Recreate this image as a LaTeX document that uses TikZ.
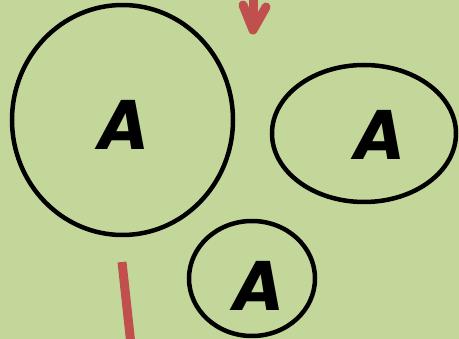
\documentclass[tikz,border=0pt]{standalone}
\usepackage{fontspec}
\setmainfont{Poppins}
\definecolor{bg}{HTML}{C4D79B}
\definecolor{redline}{HTML}{C0504D}
\tikzset{
  ring/.style={draw=black, line width=4.5pt, ellipse, inner sep=0pt},
  letter/.style={font=\fontsize{70}{70}\selectfont\bfseries\itshape, text=black, inner sep=0pt},
  redstroke/.style={draw=redline, line width=9pt}
}
\usetikzlibrary{shapes.geometric}
\begin{document}
\begin{tikzpicture}[x=1pt,y=-1pt]
\fill[bg] (0,0) rectangle (459,339);
\useasboundingbox (0,0) rectangle (459,339);
\node[ring, minimum width=221pt, minimum height=230pt] (big) at (122.5,120) {};
\node[ring, minimum width=184pt, minimum height=137pt] (oval) at (364,133.5) {};
\node[ring, minimum width=126pt, minimum height=115pt] (small) at (252,278.5) {};
\node[letter] (abig) at (123,125) {A};
\node[letter] (aoval) at (379,135) {A};
\node[letter] (asmall) at (258,286) {A};
% red arrow at top
\coordinate (arTop) at (253,-10);
\coordinate (arTip) at (253,30);
\coordinate (arL) at (243,5);
\coordinate (arR) at (266,7);
\draw[redstroke] (arTop) -- (arTip);
\draw[redstroke, line cap=round, line join=round] (arL) -- (arTip) -- (arR);
% red line bottom
\coordinate (lnTop) at (122,262);
\coordinate (lnBot) at (131,345);
\draw[redstroke] (lnTop) -- (lnBot);
\end{tikzpicture}
\end{document}
